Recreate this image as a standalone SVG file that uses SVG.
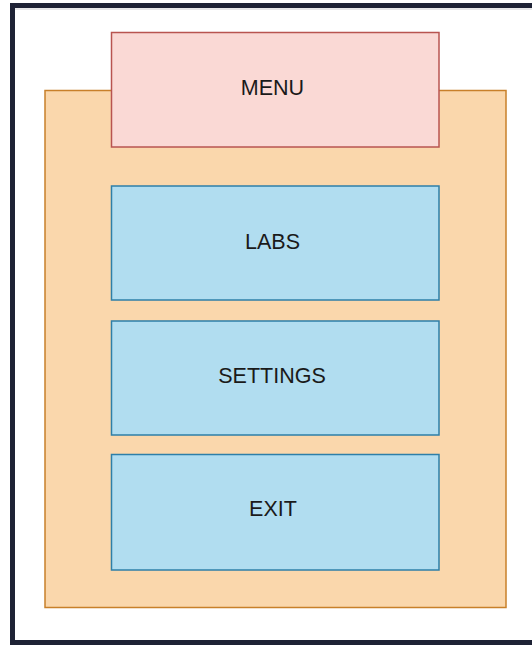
<svg xmlns="http://www.w3.org/2000/svg" width="532" height="645" viewBox="0 0 532 645">
  <style>
    .frame { fill: #ffffff; stroke: #1e2235; stroke-width: 5; }
    .container { fill: #fad7ac; stroke: #c8802a; stroke-width: 1.5; }
    .header { fill: #fad9d5; stroke: #b85450; stroke-width: 1.5; }
    .item { fill: #b1ddf0; stroke: #2e7fa8; stroke-width: 1.5; }
    .label { font-family: "Liberation Sans", Arial, sans-serif; font-size: 21.5px; fill: #1a1a1a; text-anchor: middle; dominant-baseline: central; }
  </style>

  <!-- outer frame -->
  <rect class="frame" x="12.5" y="5.5" width="530" height="637"/>
  <line x1="15" y1="9" x2="532" y2="9" stroke="#d0d0d4" stroke-width="1"/>

  <!-- menu container -->
  <g id="container">
    <rect class="container" x="45" y="90.5" width="461" height="517"/>
  </g>

  <g id="menu">
    <rect class="header" x="111.5" y="32.5" width="327.5" height="114.5"/>
    <text class="label" x="272.5" y="88">MENU</text>
  </g>

  <g id="labs">
    <rect class="item" x="111.5" y="186" width="327.5" height="114"/>
    <text class="label" x="272.5" y="242">LABS</text>
  </g>

  <g id="settings">
    <rect class="item" x="111.5" y="321" width="327.5" height="114"/>
    <text class="label" x="272" y="376">SETTINGS</text>
  </g>

  <g id="exit">
    <rect class="item" x="111.5" y="454.5" width="327.5" height="115.5"/>
    <text class="label" x="273" y="509">EXIT</text>
  </g>

  <g id="connectors"></g>
</svg>
